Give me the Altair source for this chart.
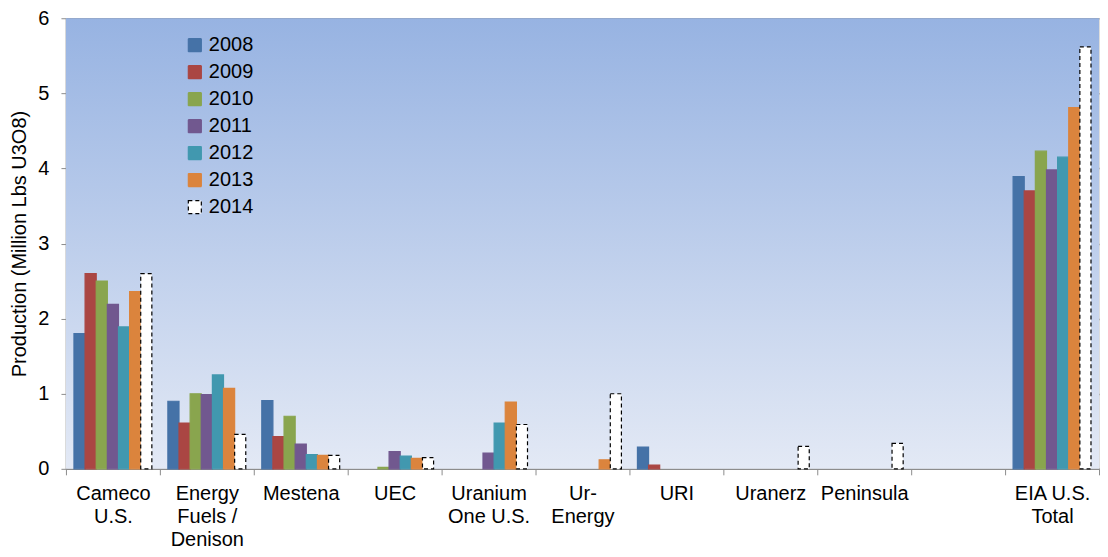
import altair as alt
import pandas as pd

companies = ["Cameco|U.S.", "Energy|Fuels /|Denison", "Mestena", "UEC", "Uranium|One U.S.",
             "Ur-|Energy", "URI", "Uranerz", "Peninsula", " ", "EIA U.S.|Total"]
years = ["2008", "2009", "2010", "2011", "2012", "2013", "2014"]

v2008 = [1.80, 0.90, 0.91, None, None, None, 0.29, None, None, None, 3.89]
v2009 = [2.60, 0.61, 0.43, None, None, None, 0.05, None, None, None, 3.70]
v2010 = [2.50, 1.00, 0.70, 0.02, None, None, None, None, None, None, 4.23]
v2011 = [2.19, 0.99, 0.33, 0.23, 0.21, None, None, None, None, None, 3.98]
v2012 = [1.89, 1.25, 0.19, 0.17, 0.61, None, None, None, None, None, 4.15]
v2013 = [2.36, 1.07, 0.18, 0.14, 0.89, 0.12, None, None, None, None, 4.81]
v2014 = [2.60, 0.46, 0.18, 0.15, 0.59, 1.00, None, 0.30, 0.34, None, 5.62]
series = [v2008, v2009, v2010, v2011, v2012, v2013, v2014]

fills = ["#4572A7", "#AA4643", "#89A54E", "#71588F", "#4198AF", "#DB843D", "#FFFFFF"]
strokes = ["#4572A7", "#AA4643", "#89A54E", "#71588F", "#4198AF", "#DB843D", "#000000"]
dashes = [[1, 0]] * 6 + [[4, 3]]

rows = []
for y, vals in zip(years, series):
    for c, v in zip(companies, vals):
        if v is not None:
            rows.append({"company": c, "year": y, "value": v})
df = pd.DataFrame(rows)

W, H = 1034, 451
FONT = "Liberation Sans"

bg = alt.Chart(pd.DataFrame({"a": [0]})).mark_rect(
    color=alt.Gradient(
        gradient="linear",
        stops=[alt.GradientStop(color="#97B3E2", offset=0),
               alt.GradientStop(color="#E3E9F5", offset=1)],
        x1=0, x2=0, y1=0, y2=1,
    )
).encode(x=alt.value(0), x2=alt.value(W), y=alt.value(0), y2=alt.value(H))

leg = alt.Legend(title=None, orient="none", legendX=119, legendY=17,
                 labelFontSize=20, labelFont=FONT, labelColor="#000000",
                 symbolType="square", symbolSize=169, symbolStrokeWidth=1.2,
                 rowPadding=7, labelOffset=4)

bars = alt.Chart(df).mark_bar(strokeWidth=1.2).encode(
    x=alt.X("company:N",
            scale=alt.Scale(domain=companies, paddingInner=0, paddingOuter=0),
            axis=alt.Axis(title=None, labelExpr="split(datum.label, '|')",
                          tickBand="extent", labelAngle=0, labelFontSize=20,
                          labelFont=FONT, labelColor="#000000", labelLineHeight=23,
                          labelPadding=9, tickSize=6, tickColor="#8C8C8C",
                          domainColor="#8C8C8C", domainWidth=1.5, labelBaseline="top")),
    xOffset=alt.XOffset("year:N", scale=alt.Scale(domain=years, paddingInner=0, paddingOuter=0.72)),
    y=alt.Y("value:Q", scale=alt.Scale(domain=[0, 6]),
            axis=alt.Axis(title="Production (Million Lbs U3O8)", values=[0, 1, 2, 3, 4, 5, 6],
                          format="d", labelFontSize=20, labelFont=FONT, labelColor="#000000",
                          titleFontSize=20, titleFont=FONT, titleFontWeight="normal",
                          titleColor="#000000", titlePadding=8,
                          grid=True, gridColor="#8E8E8E", gridWidth=1.5,
                          tickSize=5, tickColor="#8C8C8C", domainColor="#8C8C8C",
                          domainWidth=1.5, labelPadding=12)),
    fill=alt.Fill("year:N", scale=alt.Scale(domain=years, range=fills), legend=leg),
    stroke=alt.Stroke("year:N", scale=alt.Scale(domain=years, range=strokes), legend=leg),
    strokeDash=alt.StrokeDash("year:N", scale=alt.Scale(domain=years, range=dashes), legend=leg),
)

chart = alt.layer(bg, bars).properties(
    width=W, height=H,
    padding={"left": 1, "top": 0, "right": 0, "bottom": 0},
).configure_view(stroke=None).configure(font=FONT)

chart.save("out.html", embed_options={"renderer": "svg", "actions": False})
